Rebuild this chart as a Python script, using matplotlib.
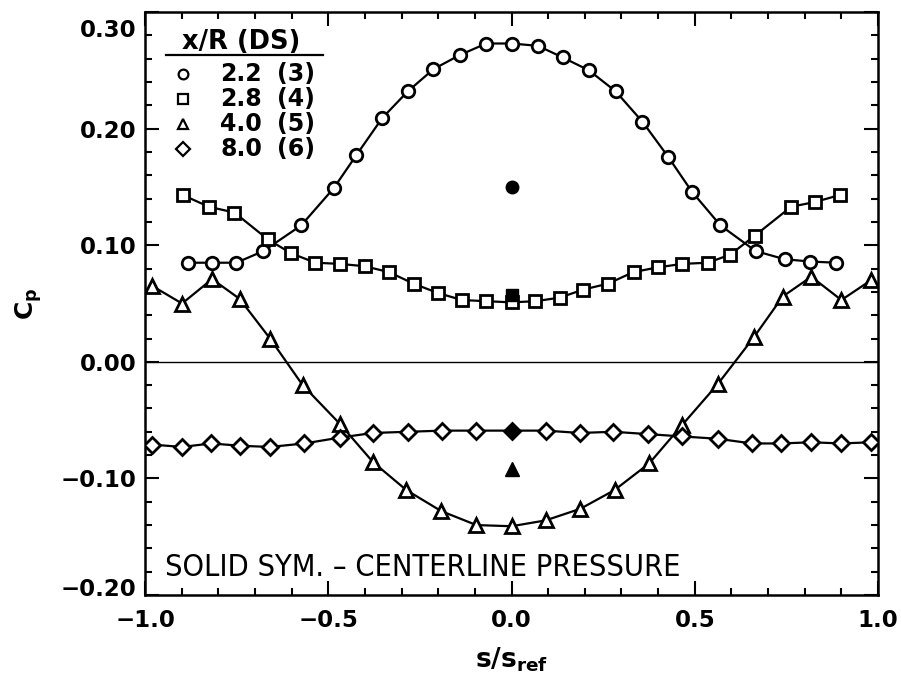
import matplotlib
matplotlib.use("Agg")
import matplotlib.pyplot as plt
from matplotlib.ticker import MultipleLocator, FuncFormatter
from matplotlib.transforms import ScaledTranslation

plt.rcParams['font.family'] = 'DejaVu Sans'

# x/R = 2.2 (DS 3) - circles
x_22 = [-0.884, -0.816, -0.751, -0.677, -0.574, -0.485, -0.424, -0.353, -0.283,
        -0.213, -0.142, -0.069, 0.0, 0.072, 0.140, 0.211, 0.284, 0.357, 0.427,
        0.492, 0.570, 0.666, 0.745, 0.815, 0.886]
cp_22 = [0.085, 0.085, 0.085, 0.095, 0.117, 0.149, 0.177, 0.209, 0.232,
         0.251, 0.263, 0.273, 0.273, 0.271, 0.261, 0.250, 0.232, 0.206, 0.176,
         0.146, 0.117, 0.095, 0.088, 0.086, 0.085]

# x/R = 2.8 (DS 4) - squares
x_28 = [-0.897, -0.826, -0.756, -0.665, -0.601, -0.535, -0.469, -0.401, -0.335,
        -0.267, -0.201, -0.135, -0.069, 0.0, 0.065, 0.131, 0.196, 0.263, 0.333,
        0.399, 0.466, 0.536, 0.597, 0.663, 0.763, 0.827, 0.895]
cp_28 = [0.143, 0.133, 0.128, 0.105, 0.093, 0.085, 0.084, 0.082, 0.077,
         0.067, 0.059, 0.053, 0.052, 0.051, 0.052, 0.055, 0.062, 0.067, 0.077,
         0.081, 0.084, 0.085, 0.092, 0.108, 0.133, 0.137, 0.143]

# x/R = 4.0 (DS 5) - triangles
x_40 = [-0.980, -0.899, -0.817, -0.742, -0.659, -0.570, -0.469, -0.378, -0.287,
        -0.192, -0.096, 0.0, 0.093, 0.188, 0.281, 0.376, 0.466, 0.563, 0.661,
        0.740, 0.818, 0.900, 0.981]
cp_40 = [0.065, 0.050, 0.071, 0.054, 0.020, -0.020, -0.053, -0.086, -0.110,
         -0.128, -0.140, -0.141, -0.136, -0.126, -0.110, -0.087, -0.054, -0.019, 0.021,
         0.056, 0.073, 0.053, 0.070]

# x/R = 8.0 (DS 6) - diamonds
x_80 = [-0.980, -0.899, -0.819, -0.740, -0.659, -0.565, -0.469, -0.378, -0.283,
        -0.189, -0.096, 0.0, 0.093, 0.186, 0.278, 0.372, 0.466, 0.563, 0.656,
        0.736, 0.818, 0.900, 0.981]
cp_80 = [-0.071, -0.073, -0.070, -0.072, -0.073, -0.070, -0.065, -0.061, -0.060,
         -0.059, -0.059, -0.059, -0.059, -0.061, -0.060, -0.062, -0.064, -0.066, -0.070,
         -0.070, -0.069, -0.070, -0.069]

# solid symbols: centerline pressure
solid_x = [0.0, 0.0, 0.0, 0.0]
solid_cp = [0.150, 0.057, -0.092, -0.059]

markers = ['o', 's', '^', 'D']
msizes = [9, 9, 9.5, 8.5]
xr_vals = ['2.2', '2.8', '4.0', '8.0']
ds_vals = ['(3)', '(4)', '(5)', '(6)']

fig = plt.figure(figsize=(9.01, 6.83), dpi=100)
ax = fig.add_axes([0.161, 0.1288, 0.8135, 0.8536])

ax.axhline(0.0, color='black', lw=1.0, zorder=1)

series = [(x_22, cp_22), (x_28, cp_28), (x_40, cp_40), (x_80, cp_80)]
for (xs, ys), m, ms in zip(series, markers, msizes):
    ax.plot(xs, ys, color='black', lw=1.6, marker=m, ms=ms, mfc='white',
            mec='black', mew=2.0, zorder=3)

for xv, yv, m, ms in zip(solid_x, solid_cp, markers, msizes):
    ax.plot(xv, yv, ls='none', marker=m, ms=ms, mfc='black', mec='black', zorder=4)

ax.set_xlim(-1.0, 1.0)
ax.set_ylim(-0.20, 0.30)
ax.set_xticks([-1.0, -0.5, 0.0, 0.5, 1.0])
ax.set_yticks([-0.2, -0.1, 0.0, 0.1, 0.2, 0.3])
ax.xaxis.set_minor_locator(MultipleLocator(0.1))
ax.yaxis.set_minor_locator(MultipleLocator(0.02))
ax.xaxis.set_major_formatter(FuncFormatter(lambda v, p: ('%.1f' % v).replace('-', '\u2212')))
ax.yaxis.set_major_formatter(FuncFormatter(lambda v, p: ('%.2f' % (v + 0.0)).replace('-', '\u2212')))
ax.tick_params(which='both', direction='in', top=True, right=True, width=1.5)
ax.tick_params(which='major', length=10, labelsize=16.5)
ax.tick_params(axis='x', which='major', pad=10)
ax.tick_params(axis='y', which='major', pad=6)
ax.tick_params(which='minor', length=5)
for lab in ax.get_xticklabels() + ax.get_yticklabels():
    lab.set_fontweight('bold')
for sp in ax.spines.values():
    sp.set_linewidth(1.8)

# end labels on the y axis sit pulled inward in the original
yt = ax.yaxis.get_major_ticks()
yt[0].label1.set_transform(yt[0].label1.get_transform() +
                           ScaledTranslation(0, 0.08, fig.dpi_scale_trans))
yt[-1].label1.set_transform(yt[-1].label1.get_transform() +
                            ScaledTranslation(0, -0.16, fig.dpi_scale_trans))

ax.set_xlabel(r'$\mathbf{s/s_{ref}}$', fontsize=19, labelpad=10)
ax.set_ylabel(r'$\mathbf{C_p}$', fontsize=18, labelpad=12)

# legend block drawn by hand (title, underline, symbol rows)
ax.text(0.0505, 0.9485, 'x/R (DS)', transform=ax.transAxes, fontsize=18.5,
        fontweight='bold', ha='left', va='center')
ax.plot([0.0287, 0.243], [0.926, 0.926], color='black', lw=1.6,
        transform=ax.transAxes, clip_on=False)
row_y = [0.8937, 0.8508, 0.8079, 0.765]
for ry, m, a, b in zip(row_y, markers, xr_vals, ds_vals):
    ax.plot([0.0518], [ry], ls='none', marker=m, ms=7, mfc='white', mec='black',
            mew=1.6, transform=ax.transAxes, clip_on=False)
    ax.text(0.1023, ry, a, transform=ax.transAxes, fontsize=17,
            fontweight='bold', ha='left', va='center')
    ax.text(0.180, ry, b, transform=ax.transAxes, fontsize=17,
            fontweight='bold', ha='left', va='center')

ax.text(0.027, 0.048, 'SOLID SYM. \u2013 CENTERLINE PRESSURE', transform=ax.transAxes,
        fontsize=22, fontstretch='condensed', va='center', ha='left')

fig.savefig('out.png', dpi=100)
